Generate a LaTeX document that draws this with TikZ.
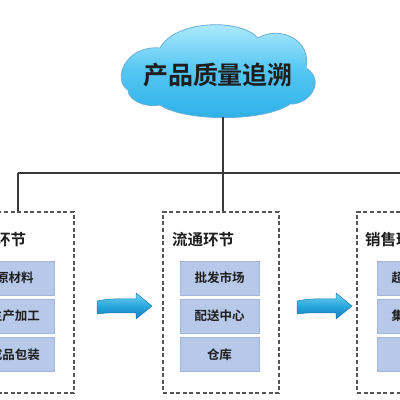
\documentclass[tikz,border=0pt]{standalone}
\usepackage{fontspec}
\newfontfamily\cjk{Noto Sans CJK SC}[BoldFont={Noto Sans CJK SC Bold}]
\definecolor{linegray}{HTML}{3A3A3A}
\definecolor{dashgray}{HTML}{555555}
\definecolor{itemfill}{HTML}{B7C8E8}
\definecolor{itemedge}{HTML}{A3B6DC}
\definecolor{cloudtop}{HTML}{B8EEFD}
\definecolor{cloudmid}{HTML}{55C6F2}
\definecolor{cloudbot}{HTML}{2AAFE8}
\definecolor{cloudedge}{HTML}{6AAEDC}
\definecolor{arrtop}{HTML}{6FD4F3}
\definecolor{arrmid}{HTML}{2AA6DC}
\definecolor{arrbot}{HTML}{1580BC}
\definecolor{arredge}{HTML}{1A7DB6}
\definecolor{txt}{HTML}{1E1E1E}
\tikzset{
  conn/.style={draw=linegray, line width=1.4pt},
  stagebox/.style={draw=dashgray, line width=1.3pt, dash pattern=on 4pt off 2.6pt,
    minimum width=116pt, minimum height=181pt, inner sep=0pt},
  stagetitle/.style={anchor=west, inner sep=0pt, text=txt,
    font=\cjk\bfseries\fontsize{15.5}{18}\selectfont},
  item/.style={fill=itemfill, draw=itemedge, line width=0.6pt,
    minimum width=79pt, minimum height=34pt, inner sep=0pt, text=txt,
    font=\cjk\bfseries\fontsize{12.5}{15}\selectfont},
  flowarrow/.style={top color=arrtop, bottom color=arrbot, middle color=arrmid,
    draw=arredge, line width=0.5pt, line join=round},
}
\begin{document}
\begin{tikzpicture}[x=1pt,y=-1pt]
\useasboundingbox (0,0) rectangle (400,400);
\clip (0,0) rectangle (400,400);
\fill[white] (0,0) rectangle (400,400);

% cloud
\shade[top color=cloudtop, bottom color=cloudbot, middle color=cloudmid,
       draw=cloudedge, line width=0.8pt]
  (128,90) .. controls (112,80) and (125,45) .. (160,48)
  .. controls (175,20) and (240,18) .. (258,38)
  .. controls (280,25) and (312,40) .. (306,68)
  .. controls (326,80) and (310,105) .. (290,104)
  .. controls (265,122) and (185,122) .. (160,105)
  .. controls (145,108) and (128,100) .. (128,90) -- cycle;
\node[inner sep=0pt, text=txt, font=\cjk\bfseries\fontsize{25}{30}\selectfont]
  (title) at (218,75) {产品质量追溯};
\coordinate (cloudb) at (223,117);

% stage boxes
\node[stagebox] (s1) at (16,302.5) {};
\node[stagebox] (s2) at (221,302.5) {};
\node[stagebox] (s3) at (415,302.5) {};

% connectors
\coordinate (j2) at (223,173);
\coordinate (j1) at (18,173);
\coordinate (j3) at (415,173);
\draw[conn] (cloudb) -- (j2);
\draw[conn] (j1) -- (j3);
\draw[conn] (j1) -- (j1 |- s1.north);
\draw[conn] (j2) -- (j2 |- s2.north);
\draw[conn] (j3) -- (j3 |- s3.north);

% titles
\node[stagetitle] (t1) at (-36,240) {生产环节};
\node[stagetitle] (t2) at (172,240) {流通环节};
\node[stagetitle] (t3) at (365,240) {销售环节};

% items
\node[item] (a1) at (15,278) {原材料};
\node[item] (a2) at (15,316) {生产加工};
\node[item] (a3) at (15,354.5) {成品包装};
\node[item] (b1) at (219.5,278) {批发市场};
\node[item] (b2) at (219.5,316) {配送中心};
\node[item] (b3) at (219.5,354.5) {仓库};
\node[item] (c1) at (416.5,278) {超级市场};
\node[item] (c2) at (416.5,316) {集贸市场};
\node[item] (c3) at (416.5,354.5) {商场};

% flow arrows
\foreach \dx in {0,200} {
  \shade[flowarrow, xshift=\dx pt]
    (97,301) .. controls (110,298) and (125,299) .. (136,299)
    -- (136,293) -- (152,306) -- (136,319) -- (136,313)
    .. controls (125,313) and (110,312) .. (97,314) -- cycle;
}
\end{tikzpicture}
\end{document}
